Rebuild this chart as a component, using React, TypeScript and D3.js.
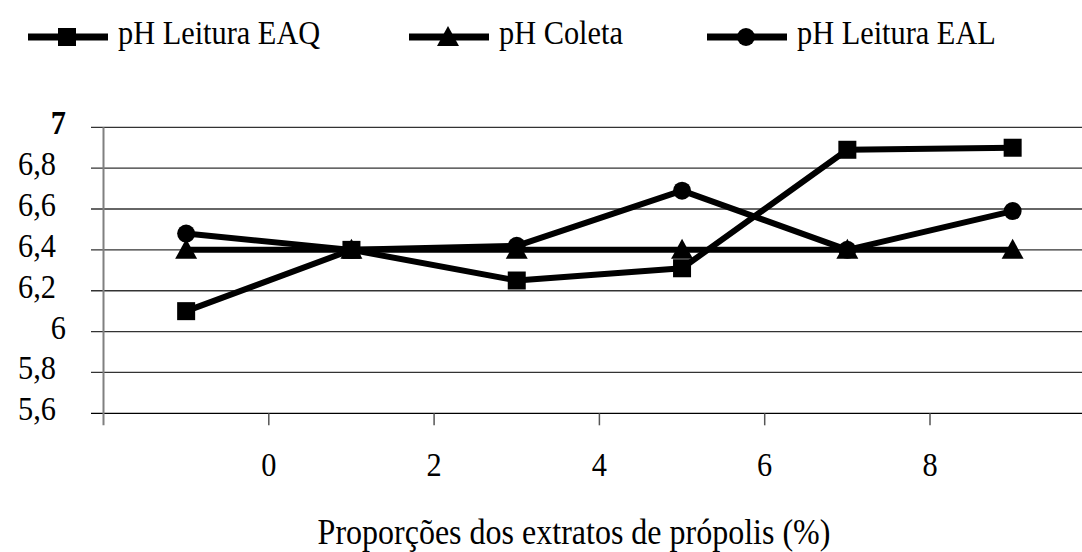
import React from 'react';
import * as d3 from 'd3';

const proportions = [-1, 1, 3, 5, 7, 9];
const phLeituraEAQ = [6.1, 6.4, 6.25, 6.31, 6.89, 6.9];
const phColeta = [6.4, 6.4, 6.4, 6.4, 6.4, 6.4];
const phLeituraEAL = [6.48, 6.4, 6.42, 6.69, 6.4, 6.59];
const seriesNames = ['pH Leitura EAQ', 'pH Coleta', 'pH Leitura EAL'];
const yTicks = [5.6, 5.8, 6, 6.2, 6.4, 6.6, 6.8, 7];
const xTicks = [0, 2, 4, 6, 8];
const xTitle = 'Proporções dos extratos de própolis (%)';

const width = 1082;
const height = 552;
const FONT = 'Liberation Serif, Times New Roman, serif';
const FS = 33;
const SX = 0.92; // the original text is a little squeezed horizontally

type Marker = 'square' | 'triangle' | 'circle';

const series: { name: string; values: number[]; marker: Marker }[] = [
  { name: seriesNames[0], values: phLeituraEAQ, marker: 'square' },
  { name: seriesNames[1], values: phColeta, marker: 'triangle' },
  { name: seriesNames[2], values: phLeituraEAL, marker: 'circle' },
];

const Label: React.FC<{
  x: number;
  y: number;
  anchor?: 'start' | 'middle' | 'end';
  bold?: boolean;
  size?: number;
  children: React.ReactNode;
}> = ({ x, y, anchor = 'start', bold = false, size = FS, children }) => (
  <text
    transform={`translate(${x},${y}) scale(${SX},1)`}
    textAnchor={anchor}
    style={{ fontFamily: FONT, fontSize: size, fontWeight: bold ? 'bold' : 'normal' }}
    fill="#000"
  >
    {children}
  </text>
);

const MarkerShape: React.FC<{ type: Marker; x: number; y: number }> = ({ type, x, y }) => {
  if (type === 'square') {
    return <rect x={x - 9} y={y - 9} width={18} height={18} fill="#000" />;
  }
  if (type === 'triangle') {
    return <path d={`M${x},${y - 11}L${x + 11},${y + 9}L${x - 11},${y + 9}Z`} fill="#000" />;
  }
  return <circle cx={x} cy={y} r={9} fill="#000" />;
};

const App: React.FC = () => {
  const left = 103.5;
  const top = 127.3;
  const bottom = 413.3;
  const step = 165.3; // pixels per 2 units

  const x = d3.scaleLinear().domain([-2, 10]).range([left, left + 6 * step]);
  const y = d3.scaleLinear().domain([5.6, 7]).range([bottom, top]);

  const line = d3
    .line<number>()
    .x((_, i) => x(proportions[i]))
    .y((d) => y(d));

  const fmt = (v: number) => (Number.isInteger(v) ? String(v) : v.toFixed(1).replace('.', ','));

  // legend layout
  const legendX = [28, 409, 707];

  return (
    <svg
      width={width}
      height={height}
      style={{ position: 'absolute', left: 0, top: 0, background: '#fff' }}
    >
      {/* Grid lines */}
      {yTicks.map((t) => (
        <line
          key={`g${t}`}
          x1={91}
          x2={width}
          y1={y(t)}
          y2={y(t)}
          stroke={t === 5.6 ? '#000' : '#333'}
          strokeWidth={1.3}
        />
      ))}

      {/* Y axis */}
      <line x1={left} x2={left} y1={top} y2={bottom + 12} stroke="#808080" strokeWidth={2} />

      {/* X ticks */}
      {xTicks.map((t) => (
        <line
          key={`xt${t}`}
          x1={x(t)}
          x2={x(t)}
          y1={bottom}
          y2={bottom + 12}
          stroke="#555"
          strokeWidth={1.5}
        />
      ))}

      {/* Y tick labels */}
      {yTicks.map((t) => (
        <Label
          key={`yl${t}`}
          x={Number.isInteger(t) ? 66 : 56}
          y={y(t) + 7}
          anchor="end"
          bold={t === 7}
        >
          {fmt(t)}
        </Label>
      ))}

      {/* X tick labels */}
      {xTicks.map((t) => (
        <Label key={`xl${t}`} x={x(t)} y={476} anchor="middle">
          {t}
        </Label>
      ))}

      {/* X title */}
      <Label x={574} y={544} anchor="middle" size={34.8}>
        {xTitle}
      </Label>

      {/* Series */}
      {series.map((s) => (
        <g key={s.name}>
          <path d={line(s.values) || ''} fill="none" stroke="#000" strokeWidth={6} strokeLinejoin="round" />
          {s.values.map((v, i) => (
            <MarkerShape key={i} type={s.marker} x={x(proportions[i])} y={y(v)} />
          ))}
        </g>
      ))}

      {/* Legend */}
      {series.map((s, i) => (
        <g key={`lg${s.name}`}>
          <line x1={legendX[i]} x2={legendX[i] + 80} y1={37} y2={37} stroke="#000" strokeWidth={7} />
          <MarkerShape type={s.marker} x={legendX[i] + 39} y={37} />
          <Label x={legendX[i] + 90} y={44}>
            {s.name}
          </Label>
        </g>
      ))}
    </svg>
  );
};

export default App;
